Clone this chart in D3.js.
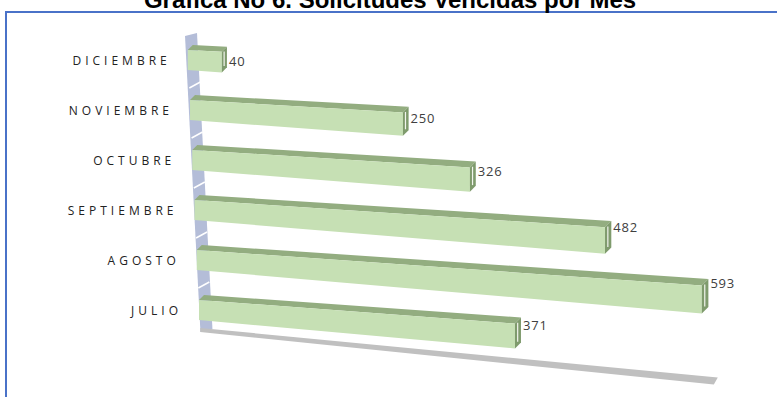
<!DOCTYPE html>
<html>
<head>
<meta charset="utf-8">
<script src="https://cdn.jsdelivr.net/npm/d3@7"></script>
<style>
  body { margin: 0; background: #ffffff; }
  svg { display: block; }
</style>
</head>
<body>
<svg id="chart" width="777" height="397"></svg>
<script>
// Data
const categories = ["JULIO", "AGOSTO", "SEPTIEMBRE", "OCTUBRE", "NOVIEMBRE", "DICIEMBRE"];
const values = [371, 593, 482, 326, 250, 40];
const valueDomain = [0, 600];
const chartTitle = "Grafica No 6. Solicitudes Vencidas por Mes";

const svg = d3.select("#chart");

// Outer frame
svg.append("rect")
  .attr("x", 6).attr("y", 12)
  .attr("width", 800).attr("height", 400)
  .attr("fill", "none")
  .attr("stroke", "#4a72c8")
  .attr("stroke-width", 2);

// Title
svg.append("text")
  .attr("x", 390).attr("y", 8)
  .attr("text-anchor", "middle")
  .attr("font-family", "Liberation Sans, Arial, sans-serif")
  .attr("font-weight", "bold")
  .attr("font-size", 24)
  .attr("fill", "#000")
  .text(chartTitle);

// Rows run top to bottom from the latest month to the earliest
const rows = categories.slice().reverse();
const y = d3.scaleBand().domain(rows).range([40, 330]).paddingInner(0.6).paddingOuter(0.2);
const x = d3.scaleLinear().domain(valueDomain).range([0, 511]);

// Left wall edge drifts right as it goes down
const wallX = yy => 187 + (yy - 33) * 0.045;

// Perspective-ish projection: bars drop and thicken toward the right
const dropAt = (v, yw) => (30 + 0.04 * (yw - 100)) * v / valueDomain[1];
function proj(v, yw, dy) {
  const k = 1 + 0.4 * v / valueDomain[1];
  return [wallX(yw) + x(v), yw + dropAt(v, yw) + dy * k];
}
function depth(v) {
  const k = 1 + 0.32 * v / valueDomain[1];
  return [5 * k, -5 * k];
}
const line = d3.line();

// Wall
const wallTop = 33, wallBot = 332;
svg.append("path")
  .attr("d", line([[wallX(wallTop) - 2, wallTop + 3], [wallX(wallTop) + 10, wallTop],
                   [wallX(wallBot) + 12, wallBot - 3], [wallX(wallBot), wallBot]]) + "Z")
  .attr("fill", "#b4bdd8");

// Wall separators between rows
rows.slice(1).forEach(c => {
  const yy = y(c) - y.step() * 0.3;
  svg.append("path")
    .attr("d", line([[wallX(yy), yy + 3], [wallX(yy) + 11, yy - 3]]))
    .attr("stroke", "#ffffff").attr("stroke-width", 1.5);
});

// Floor
const floorY = 328;
const f0 = proj(0, floorY, 0), f1 = proj(valueDomain[1], floorY + 12, 0);
svg.append("path")
  .attr("d", line([[f0[0], f0[1]], [f1[0] + 6, f1[1] - 2], [f1[0] + 2, f1[1] + 5], [f0[0], f0[1] + 4]]) + "Z")
  .attr("fill", "#c0c0c0");

// Bars
const barH = y.bandwidth();
const bars = svg.append("g");
categories.forEach((c, i) => {
  const v = values[i];
  const yw = y(c);
  const g = bars.append("g");
  const tl = proj(0, yw, 0), tr = proj(v, yw, 0);
  const bl = proj(0, yw, barH), br = proj(v, yw, barH);
  const d0 = depth(0), d1 = depth(v);

  // top face
  g.append("path")
    .attr("d", line([tl, tr, [tr[0] + d1[0], tr[1] + d1[1]], [tl[0] + d0[0], tl[1] + d0[1]]]) + "Z")
    .attr("fill", "#93ad80");
  // front face
  g.append("path")
    .attr("d", line([tl, tr, br, bl]) + "Z")
    .attr("fill", "#c6e0b4");
  // end cap
  g.append("path")
    .attr("d", line([tr, br, [br[0] + d1[0], br[1] + d1[1]], [tr[0] + d1[0], tr[1] + d1[1]]]) + "Z")
    .attr("fill", "#7f9b6d");
  g.append("path")
    .attr("d", line([[tr[0] + d1[0] * 0.45, tr[1] + d1[1] * 0.45 + 2], [br[0] + d1[0] * 0.45, br[1] + d1[1] * 0.45 - 4]]))
    .attr("stroke", "#f2f5ee").attr("stroke-width", 1.2);

  // value label
  g.append("text")
    .attr("x", tr[0] + d1[0] + 2)
    .attr("y", yw + barH / 2 + 0.65 * dropAt(v, yw) + 4.5)
    .attr("font-family", "Open Sans, sans-serif")
    .attr("font-size", 13)
    .attr("letter-spacing", 0.8)
    .attr("fill", "#404040")
    .text(v);

  // category label
  svg.append("text")
    .attr("x", wallX(yw) - 17)
    .attr("y", yw + 15)
    .attr("text-anchor", "end")
    .attr("font-family", "Open Sans, sans-serif")
    .attr("font-size", 12)
    .attr("letter-spacing", 4)
    .attr("fill", "#222")
    .text(c);
});
</script>
</body>
</html>
